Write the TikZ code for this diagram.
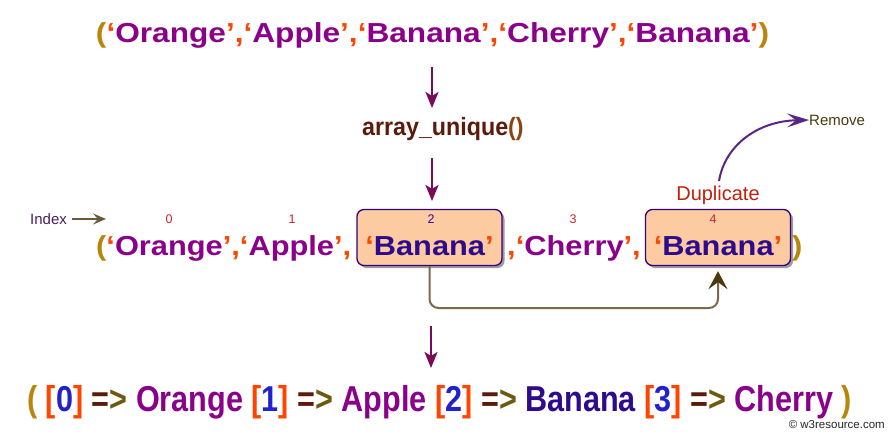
\documentclass[tikz,border=0pt]{standalone}
\usepackage{fontspec}
\setmainfont{Liberation Sans}
\newfontfamily\topfont[FakeStretch=1.15]{Liberation Sans}
\newfontfamily\midfont[FakeStretch=1.12]{Liberation Sans}
\newfontfamily\botfont[FakeStretch=0.85]{Liberation Sans}
\newfontfamily\fnfont[FakeStretch=0.93]{Liberation Sans}
\usetikzlibrary{arrows.meta,shadows}
\definecolor{pc}{HTML}{B8860B}
\definecolor{qc}{HTML}{FF4500}
\definecolor{wc}{HTML}{8B008B}
\definecolor{bt}{HTML}{2E0A8C}
\definecolor{bfill}{HTML}{FDCBA2}
\definecolor{bdraw}{HTML}{330080}
\definecolor{arr}{HTML}{7A0A5A}
\definecolor{fnc}{HTML}{5C1A0A}
\definecolor{fnp}{HTML}{8B4513}
\definecolor{dg}{HTML}{2222CC}
\definecolor{eqc}{HTML}{5C1A0A}
\definecolor{gtc}{HTML}{6B5A10}
\definecolor{dupc}{HTML}{C0220A}
\definecolor{remc}{HTML}{4A3A10}
\definecolor{curc}{HTML}{5A2585}
\definecolor{conc}{HTML}{7A6A4A}
\definecolor{conh}{HTML}{4A3A10}
\definecolor{idxc}{HTML}{CC2233}
\definecolor{idxa}{HTML}{6B5A3A}
\definecolor{idxt}{HTML}{4A2060}
\newcommand\qword[2]{{\color{qc}‘}{\color{#1}#2}{\color{qc}’}}
\tikzset{
  midtxt/.style={inner sep=0pt, anchor=base, font=\midfont\bfseries\fontsize{27.5}{27.5}\selectfont},
  hbox/.style={draw=bdraw, line width=1.3pt, fill=bfill, rounded corners=7pt,
    minimum width=145pt, minimum height=56pt, inner sep=0pt,
    drop shadow={shadow xshift=2.5pt, shadow yshift=-2.5pt, fill=black!55, opacity=0.7}},
  idx/.style={inner sep=0pt, font=\fontsize{12.5}{12.5}\selectfont, text=idxc},
  varrow/.style={draw=arr, line width=2.6pt, -{Stealth[length=16pt, width=13pt, inset=4pt]}},
}
\begin{document}
\begin{tikzpicture}[x=1pt, y=-1pt]
\useasboundingbox[fill=white] (0,0) rectangle (889,434);

% top row
\node[inner sep=0pt, anchor=base, font=\topfont\bfseries\fontsize{27.5}{27.5}\selectfont] (top) at (432.5,42)
  {{\color{pc}(}\qword{wc}{Orange}{\color{qc},}\qword{wc}{Apple}{\color{qc},}\qword{wc}{Banana}{\color{qc},}\qword{wc}{Cherry}{\color{qc},}\qword{wc}{Banana}{\color{pc})}};

% function
\node[inner sep=0pt, anchor=base west, font=\fnfont\bfseries\fontsize{25}{25}\selectfont] (fn) at (362,135)
  {{\color{fnc}array\_unique}{\color{fnp}()}};

\coordinate (a1s) at (432,67);
\coordinate (a1e) at (432,108);
\coordinate (a2s) at (432,158);
\coordinate (a2e) at (432,201);
\draw[varrow] (a1s) -- (a1e);
\draw[varrow] (a2s) -- (a2e);

% middle row
\node[hbox] (b1) at (429.5,237.5) {};
\node[hbox] (b2) at (718,237.5) {};
\node[midtxt, anchor=base west] (w0) at (96,255)
  {{\color{pc}(}\qword{wc}{Orange}{\color{qc},}\qword{wc}{Apple}{\color{qc},}};
\node[midtxt] (t1) at (429.5,255) {\qword{bt}{Banana}};
\node[midtxt] (w3) at (574,255) {{\color{qc},}\qword{wc}{Cherry}{\color{qc},}};
\node[midtxt] (t2) at (718,255) {\qword{bt}{Banana}};
\node[midtxt, anchor=base west] (rp) at (792,255) {\color{pc})};

% indices
\node[idx] (i0) at (169,219) {0};
\node[idx] (i1) at (292,219) {1};
\node[idx, text=bt] (i2) at (431,219) {2};
\node[idx] (i3) at (573,219) {3};
\node[idx] (i4) at (713,219) {4};
\node[inner sep=0pt, anchor=west, font=\fontsize{15}{15}\selectfont, text=idxt] (ix) at (30,219) {Index};
\coordinate (ixe) at (106,219);
\draw[draw=idxa, line width=1.6pt, -{Stealth[length=13pt, width=11pt, inset=5pt]}] (ix.east) ++(5,0) -- (ixe);

% duplicate / remove
\node[inner sep=0pt, font=\fontsize{20}{20}\selectfont, text=dupc] (dup) at (718,195) {Duplicate};
\node[inner sep=0pt, anchor=west, font=\fontsize{15}{15}\selectfont, text=remc] (rem) at (809,120) {Remove};
\coordinate (dtop) at (719,181);
\draw[draw=curc, line width=2pt, -{Stealth[length=22pt, width=14pt, inset=9pt]}]
  (dtop) .. controls (725,145) and (758,121) .. (rem.west);

% connector
\coordinate (cl) at (430,308);
\draw[draw=conc, line width=2pt, rounded corners=9pt, -{Stealth[length=18pt, width=19pt, inset=7pt, color=conh]}, shorten >=5pt]
  (b1.south) -- (b1.south |- cl) -- (b2.south |- cl) -- (b2.south);

% bottom
\coordinate (a3s) at (431,326);
\coordinate (a3e) at (431,368);
\draw[varrow] (a3s) -- (a3e);
\node[inner sep=0pt, anchor=base west, font=\botfont\bfseries\fontsize{36}{36}\selectfont] (bot) at (27,411)
  {{\color{pc}(} {\color{qc}[}{\color{dg}0}{\color{qc}]} {\color{eqc}=}{\color{gtc}>} {\color{wc}Orange} {\color{qc}[}{\color{dg}1}{\color{qc}]} {\color{eqc}=}{\color{gtc}>} {\color{wc}Apple} {\color{qc}[}{\color{dg}2}{\color{qc}]} {\color{eqc}=}{\color{gtc}>} {\color{bt}Banana} {\color{qc}[}{\color{dg}3}{\color{qc}]} {\color{eqc}=}{\color{gtc}>} {\color{wc}Cherry} {\color{pc})}};

\node[inner sep=0pt, anchor=east, font=\fontsize{11.5}{11.5}\selectfont, text=black!85] (copy) at (885,425) {© w3resource.com};
\end{tikzpicture}
\end{document}
